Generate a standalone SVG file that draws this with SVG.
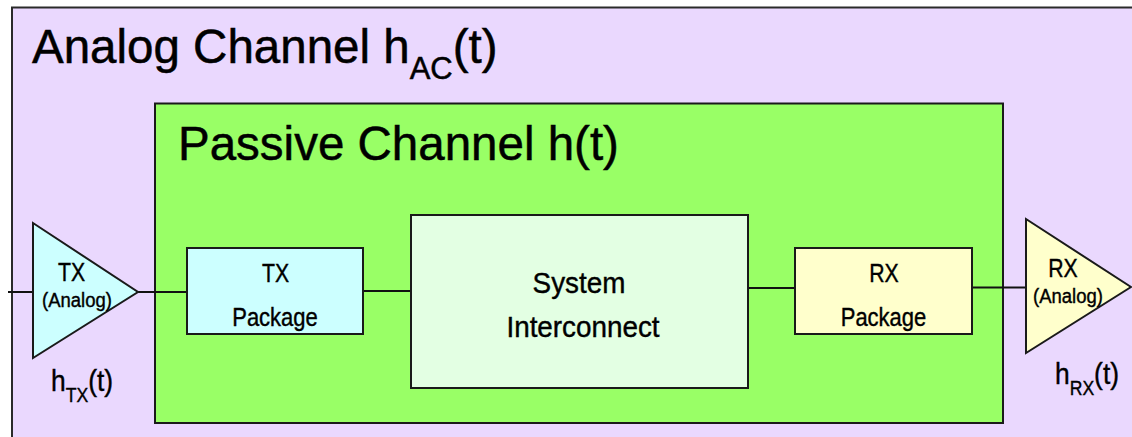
<svg xmlns="http://www.w3.org/2000/svg" width="1132" height="437" viewBox="0 0 1132 437">
  <style>
    text { font-family: "Liberation Sans", Arial, sans-serif; fill: #000; stroke: #000; stroke-width: 0.4; }
    .title { font-size: 47.5px; stroke-width: 0.5; }
    .sub { font-size: 31px; }
    .block { font-size: 25px; text-anchor: middle; }
    .big { font-size: 29px; text-anchor: middle; }
    .small { font-size: 21px; text-anchor: middle; }
    .resp { font-size: 30px; }
    .resp-sub { font-size: 20px; }
    .frame { stroke: #2a2a2a; stroke-width: 2; }
    .box { stroke: #1a1a1a; stroke-width: 2; }
    .wire { stroke: #111; stroke-width: 2; fill: none; }
  </style>

  <!-- Outer analog channel frame (continues past right and bottom edges) -->
  <g id="analog-channel">
    <rect class="frame" x="12" y="7.5" width="1140" height="440" fill="#EAD8FE"/>
    <text class="title" x="32" y="63">Analog Channel h<tspan class="sub" y="79">AC</tspan><tspan y="63">(t)</tspan></text>
  </g>

  <!-- Passive channel -->
  <g id="passive-channel">
    <rect class="box" x="155" y="103.5" width="848" height="319.5" fill="#99FF66"/>
    <text class="title" x="178" y="160">Passive Channel h(t)</text>
  </g>

  <!-- Connectors -->
  <g id="connectors">
    <line class="wire" x1="8" y1="292" x2="33" y2="292"/>
    <line class="wire" x1="138" y1="292" x2="187" y2="292"/>
    <line class="wire" x1="363" y1="291" x2="411" y2="291"/>
    <line class="wire" x1="748" y1="288" x2="795" y2="288"/>
    <line class="wire" x1="972" y1="287.5" x2="1026" y2="287.5"/>
  </g>

  <!-- Transmitter analog front end -->
  <g id="tx-analog">
    <polygon class="box" points="33,223 33,358 138,292" fill="#CCFFFF"/>
    <text class="block" transform="translate(71.5,281) scale(0.85,1)">TX</text>
    <text class="small" transform="translate(77,307) scale(0.88,1)">(Analog)</text>
    <text class="resp" transform="translate(51,391) scale(0.88,1)">h<tspan class="resp-sub" y="11">TX</tspan><tspan y="0">(t)</tspan></text>
  </g>

  <!-- Transmitter package -->
  <g id="tx-package">
    <rect class="box" x="187" y="248" width="176" height="86" fill="#CCFFFF"/>
    <text class="block" transform="translate(275.5,282) scale(0.85,1)">TX</text>
    <text class="block" transform="translate(275,326) scale(0.88,1)">Package</text>
  </g>

  <!-- System interconnect -->
  <g id="system-interconnect">
    <rect class="box" x="411" y="215" width="337" height="173" fill="#E3FFE3"/>
    <text class="big" transform="translate(579,293) scale(0.96,1)">System</text>
    <text class="big" transform="translate(583,337) scale(0.96,1)">Interconnect</text>
  </g>

  <!-- Receiver package -->
  <g id="rx-package">
    <rect class="box" x="795" y="248" width="177" height="86" fill="#FFFFCC"/>
    <text class="block" transform="translate(884,282) scale(0.85,1)">RX</text>
    <text class="block" transform="translate(883.5,326) scale(0.88,1)">Package</text>
  </g>

  <!-- Receiver analog front end -->
  <g id="rx-analog">
    <polygon class="box" points="1026,219 1026,353 1131,287" fill="#FFFFCC"/>
    <text class="block" transform="translate(1063,277) scale(0.85,1)">RX</text>
    <text class="small" transform="translate(1068,303) scale(0.88,1)">(Analog)</text>
    <text class="resp" transform="translate(1055,384) scale(0.88,1)">h<tspan class="resp-sub" y="11">RX</tspan><tspan y="0">(t)</tspan></text>
  </g>
</svg>
